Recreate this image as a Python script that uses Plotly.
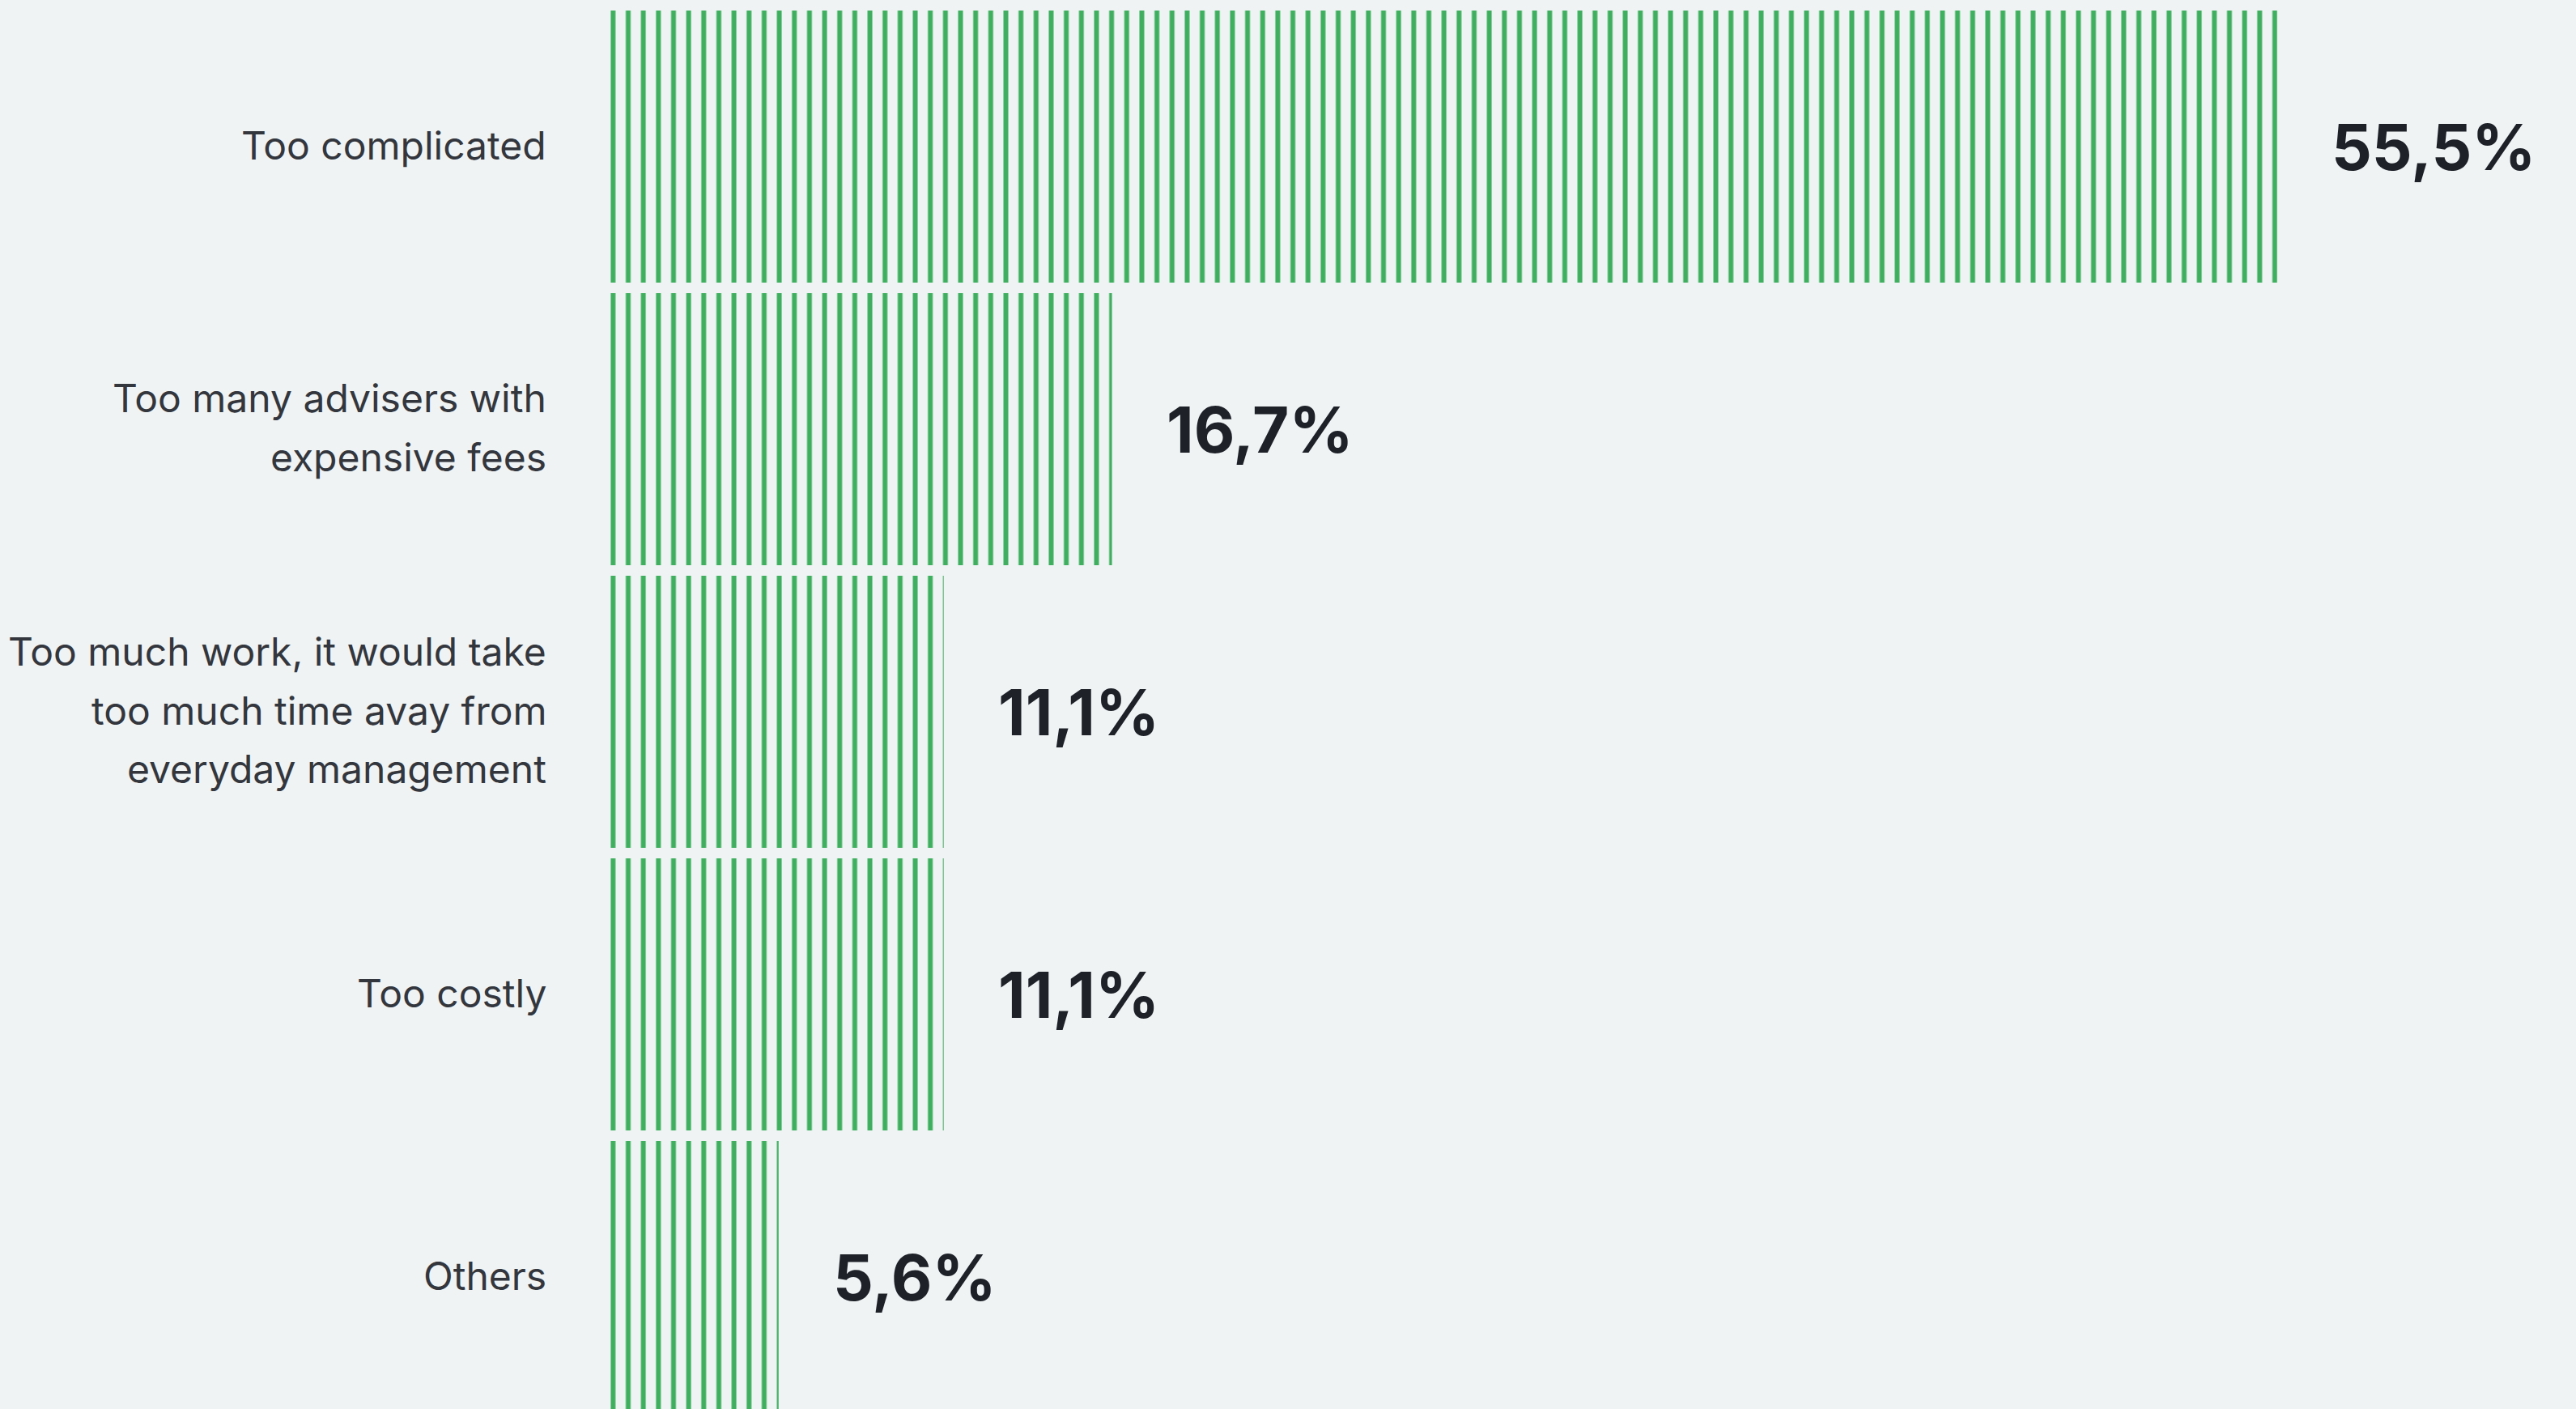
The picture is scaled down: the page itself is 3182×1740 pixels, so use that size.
import plotly.graph_objects as go

# Survey answers, top to bottom
categories = [
    "Too complicated",
    "Too many advisers with\nexpensive fees",
    "Too much work, it would take\ntoo much time avay from\neveryday management",
    "Too costly",
    "Others",
]
values = [55.5, 16.7, 11.1, 11.1, 5.6]
value_labels = ["55,5%", "16,7%", "11,1%", "11,1%", "5,6%"]

BG = "#eff3f4"
GREEN = "#3cb05c"
TEXT = "#33373d"
VALUE_TEXT = "#1e2128"

W, H = 3182, 1740
PLOT_LEFT = 748
PX_PER_UNIT = 37.1          # horizontal scale, pixels per percentage point
ZERO_OFFSET = 6             # pixels between plot edge and the value 0
ROW_PITCH = 349             # pixels per category row
FIRST_CENTER = 181          # pixel centre of the first row

x0 = -ZERO_OFFSET / PX_PER_UNIT
x1 = x0 + (W - PLOT_LEFT) / PX_PER_UNIT
y_top = -FIRST_CENTER / ROW_PITCH
y_bottom = (H - FIRST_CENTER) / ROW_PITCH

fig = go.Figure()
fig.add_trace(go.Bar(
    x=values,
    y=categories,
    orientation="h",
    marker=dict(
        color=BG,
        line=dict(width=0),
        pattern=dict(shape="|", fgcolor=GREEN, fgopacity=1, fillmode="overlay",
                     size=18.66, solidity=0.32),
    ),
    hoverinfo="skip",
))

annotations = []
LINE_GAP = 72.5
for cat, val, lab in zip(categories, values, value_labels):
    lines = cat.split("\n")
    n = len(lines)
    for i, line in enumerate(lines):
        annotations.append(dict(
            xref="paper", x=0, yref="y", y=cat,
            text=line, showarrow=False,
            xanchor="right", yanchor="middle",
            xshift=-71, yshift=-(i - (n - 1) / 2) * LINE_GAP + 2,
            font=dict(family="Inter", size=48, color=TEXT),
        ))
    annotations.append(dict(
        x=val, y=cat, xref="x", yref="y",
        text=lab, showarrow=False,
        xanchor="left", yanchor="middle", xshift=65,
        font=dict(family="Inter", size=78, color=VALUE_TEXT, weight="bold"),
    ))

fig.update_layout(
    width=W, height=H,
    margin=dict(l=PLOT_LEFT, r=0, t=0, b=0, pad=0),
    paper_bgcolor=BG, plot_bgcolor=BG,
    bargap=0.037,
    showlegend=False,
    annotations=annotations,
    xaxis=dict(range=[x0, x1], visible=False, fixedrange=True),
    yaxis=dict(type="category", categoryorder="array", categoryarray=categories,
               range=[y_bottom, y_top], showticklabels=False, showgrid=False,
               zeroline=False, ticks="", fixedrange=True),
)

fig.write_html("out.html", config={"displayModeBar": False})
